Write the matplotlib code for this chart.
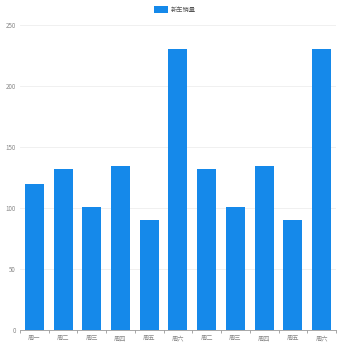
import matplotlib
matplotlib.use("Agg")
import matplotlib.pyplot as plt
from matplotlib.patches import Patch

plt.rcParams['font.family'] = ['Noto Sans CJK SC', 'DejaVu Sans']

days = ["周一", "周二", "周三", "周四", "周五", "周六", "周二", "周三", "周四", "周五", "周六"]
sales = [120, 132, 101, 134, 90, 230, 132, 101, 134, 90, 230]
series_name = "新车销量"
yticks = [0, 50, 100, 150, 200, 250]

color = "#1589ea"

fig = plt.figure(figsize=(3.5, 3.5), dpi=100)
ax = fig.add_axes([0.057, 0.057, 0.903, 0.872])

x = list(range(len(days)))
ax.bar(x, sales, width=0.66, color=color, zorder=3)

ax.set_xlim(-0.5, len(days) - 0.5)
ax.set_ylim(0, 250)
ax.set_yticks(yticks)
ax.set_yticklabels([str(v) for v in yticks], fontsize=4.5, color="#888888")
ax.set_xticks(x)
ax.set_xticklabels(days, fontsize=4.5, color="#888888")
ax.set_xticks([i - 0.5 for i in range(len(days) + 1)], minor=True)
ax.tick_params(axis="x", which="major", length=0, pad=3)
ax.tick_params(axis="x", which="minor", length=2, color="#999999")
ax.tick_params(axis="y", length=0, pad=3)

ax.grid(axis="y", color="#eeeeee", linewidth=0.6, zorder=0)
for s in ["top", "right", "left"]:
    ax.spines[s].set_visible(False)
ax.spines["bottom"].set_color("#999999")
ax.spines["bottom"].set_linewidth(0.6)

handle = Patch(facecolor=color, edgecolor="none")
fig.legend([handle], [series_name], loc="upper center", bbox_to_anchor=(0.5, 1.0),
           frameon=False, fontsize=4.5, handlelength=2.2, handleheight=1.2,
           handletextpad=0.4, labelcolor="#555555")

fig.savefig("out.png", dpi=100)
